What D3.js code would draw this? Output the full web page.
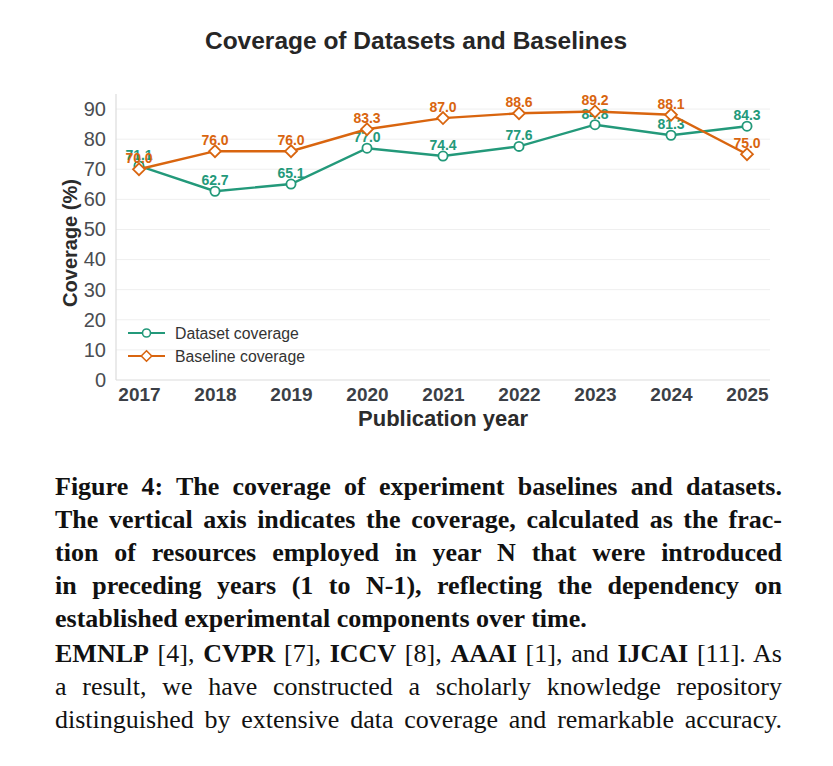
<!DOCTYPE html>
<html>
<head>
<meta charset="utf-8">
<script src="https://cdn.jsdelivr.net/npm/d3@7"></script>
<style>
  body { margin: 0; background: #fff; }
  #wrap { position: relative; width: 833px; height: 766px; overflow: hidden; }
  #caption { position: absolute; left: 55px; top: 470px; width: 727px; font-family: "Liberation Serif", "DejaVu Serif", serif; font-size: 26px; color: #111; }
  #caption div { height: 33px; line-height: 33px; white-space: nowrap; text-align: justify; text-align-last: justify; }
  #caption div.last { text-align-last: left; }
  #caption .b { font-weight: bold; }
</style>
</head>
<body>
<div id="wrap">
  <svg id="chart" width="833" height="466"></svg>
  <div id="caption"></div>
</div>
<script>
var years = ["2017", "2018", "2019", "2020", "2021", "2022", "2023", "2024", "2025"];
var datasetCoverage = [71.1, 62.7, 65.1, 77.0, 74.4, 77.6, 84.8, 81.3, 84.3];
var baselineCoverage = [70.0, 76.0, 76.0, 83.3, 87.0, 88.6, 89.2, 88.1, 75.0];
var yTicks = [0, 10, 20, 30, 40, 50, 60, 70, 80, 90];

var captionLines = [
    "Figure 4: The coverage of experiment baselines and datasets.",
    "The vertical axis indicates the coverage, calculated as the frac-",
    "tion of resources employed in year N that were introduced",
    "in preceding years (1 to N-1), reflecting the dependency on",
    "established experimental components over time."
];

var green = "#23997a";
var orange = "#d9650f";
var sans = "Liberation Sans, Arial, sans-serif";

var svg = d3.select("#chart");
var plotLeft = 116, plotRight = 770, plotBottom = 380, plotTop = 94;

var x = d3.scalePoint().domain(years).range([139, 747]);
var y = d3.scaleLinear().domain([0, 95]).range([plotBottom, plotTop]);

// title
svg.append("text")
    .attr("x", 416).attr("y", 49)
    .attr("text-anchor", "middle")
    .style("font-family", sans)
    .style("font-size", "24.5px").style("font-weight", "bold")
    .style("fill", "#262626")
    .text("Coverage of Datasets and Baselines");

// grid
svg.append("g").selectAll("line").data(yTicks.slice(1)).enter().append("line")
    .attr("x1", plotLeft).attr("x2", plotRight)
    .attr("y1", function (d) { return y(d); }).attr("y2", function (d) { return y(d); })
    .style("stroke", "#efefef").style("stroke-width", 1);

// spines
svg.append("line").attr("x1", plotLeft).attr("x2", plotLeft).attr("y1", plotTop).attr("y2", plotBottom)
    .style("stroke", "#dcdcdc").style("stroke-width", 1.2);
svg.append("line").attr("x1", plotLeft).attr("x2", plotRight).attr("y1", plotBottom).attr("y2", plotBottom)
    .style("stroke", "#dcdcdc").style("stroke-width", 1.2);

// y axis
var yAxis = d3.axisLeft(y).tickValues(yTicks).tickSize(0).tickPadding(10);
var gy = svg.append("g").attr("transform", "translate(" + plotLeft + ",0)").call(yAxis);
gy.select(".domain").remove();
gy.selectAll("text")
    .style("font-family", sans)
    .style("font-size", "20px").style("fill", "#4a4d52");

// x axis
var xAxis = d3.axisBottom(x).tickSize(0).tickPadding(8);
var gx = svg.append("g").attr("transform", "translate(0," + plotBottom + ")").call(xAxis);
gx.select(".domain").remove();
gx.selectAll("text")
    .style("font-family", sans)
    .style("font-size", "19px").style("font-weight", "bold").style("fill", "#3b3f46");

// axis labels
svg.append("text")
    .attr("x", 443).attr("y", 426)
    .attr("text-anchor", "middle")
    .style("font-family", sans)
    .style("font-size", "22px").style("font-weight", "bold").style("fill", "#2b2b2b")
    .text("Publication year");
svg.append("text")
    .attr("transform", "translate(77,243) rotate(-90)")
    .attr("text-anchor", "middle")
    .style("font-family", sans)
    .style("font-size", "20px").style("font-weight", "bold").style("fill", "#2b2b2b")
    .text("Coverage (%)");

var line = d3.line()
    .x(function (d, i) { return x(years[i]); })
    .y(function (d) { return y(d); });

var diamond = d3.symbol().type(d3.symbolDiamond2).size(90);

function drawSeries(values, color, marker) {
    var g = svg.append("g");
    g.append("path").datum(values).attr("d", line)
        .style("fill", "none").style("stroke", color).style("stroke-width", 2.4);
    var pts = g.selectAll(".pt").data(values).enter();
    if (marker == "circle") {
        pts.append("circle")
            .attr("cx", function (d, i) { return x(years[i]); })
            .attr("cy", function (d) { return y(d); })
            .attr("r", 4.6)
            .style("fill", "#fff").style("stroke", color).style("stroke-width", 1.8);
    } else {
        pts.append("path")
            .attr("d", diamond)
            .attr("transform", function (d, i) { return "translate(" + x(years[i]) + "," + y(d) + ")"; })
            .style("fill", "#fff").style("stroke", color).style("stroke-width", 1.8);
    }
    g.selectAll(".lbl").data(values).enter().append("text")
        .attr("x", function (d, i) { return x(years[i]); })
        .attr("y", function (d) { return y(d) - 6; })
        .attr("text-anchor", "middle")
        .style("font-family", sans)
        .style("font-size", "14px").style("font-weight", "bold")
        .style("fill", color)
        .text(function (d) { return d.toFixed(1); });
}

drawSeries(datasetCoverage, green, "circle");
drawSeries(baselineCoverage, orange, "diamond");

// legend
var legend = [
    { name: "Dataset coverage", color: green, marker: "circle" },
    { name: "Baseline coverage", color: orange, marker: "diamond" }
];
legend.forEach(function (l, i) {
    var ly = 333 + i * 23;
    svg.append("line").attr("x1", 128).attr("x2", 165).attr("y1", ly).attr("y2", ly)
        .style("stroke", l.color).style("stroke-width", 2.2);
    if (l.marker == "circle") {
        svg.append("circle").attr("cx", 146.5).attr("cy", ly).attr("r", 4)
            .style("fill", "#fff").style("stroke", l.color).style("stroke-width", 1.6);
    } else {
        svg.append("path").attr("d", d3.symbol().type(d3.symbolDiamond2).size(70))
            .attr("transform", "translate(146.5," + ly + ")")
            .style("fill", "#fff").style("stroke", l.color).style("stroke-width", 1.6);
    }
    svg.append("text").attr("x", 175).attr("y", ly + 5.5)
        .style("font-family", sans)
        .style("font-size", "15.8px").style("fill", "#333")
        .text(l.name);
});

// caption
var cap = d3.select("#caption");
captionLines.forEach(function (t, i) {
    cap.append("div").attr("class", "b" + (i == captionLines.length - 1 ? " last" : "")).text(t);
});
cap.append("div").style("height", "2px");
var para = cap.append("div");
para.html("<span class='b'>EMNLP</span> [4], <span class='b'>CVPR</span> [7], <span class='b'>ICCV</span> [8], <span class='b'>AAAI</span> [1], and <span class='b'>IJCAI</span> [11]. As");
cap.append("div").text("a result, we have constructed a scholarly knowledge repository");
cap.append("div").text("distinguished by extensive data coverage and remarkable accuracy.");
</script>
</body>
</html>
